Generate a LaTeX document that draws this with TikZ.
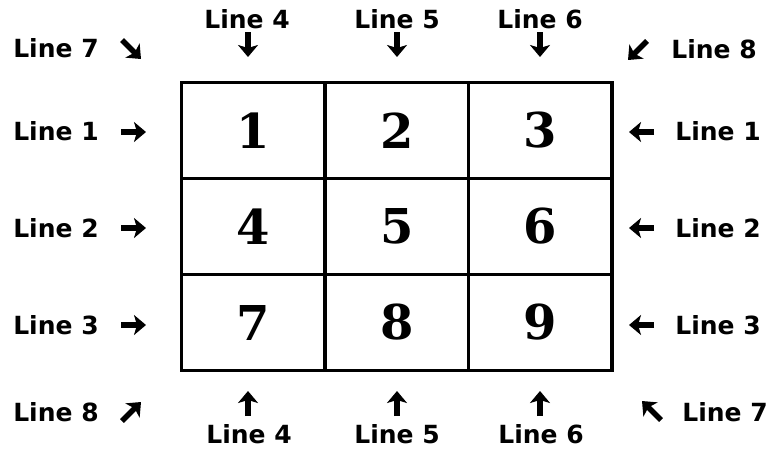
\documentclass[tikz,border=0pt]{standalone}
\usepackage{fontspec}
\setmainfont{DejaVu Sans}
\newfontfamily\digitfont{DejaVu Serif}
\usetikzlibrary{arrows.meta}
\tikzset{
  cell/.style={draw, line width=3.5pt, minimum width=143.5pt, minimum height=96pt,
    inner sep=0pt, outer sep=0pt, font=\digitfont\bfseries\fontsize{48}{48}\selectfont},
  lbl/.style={inner sep=0pt, font=\bfseries\fontsize{25}{25}\selectfont},
  garrow/.style={line width=5.5pt, -{Stealth[length=12pt 0, width=20pt 0, inset=3pt 0]}}
}
\begin{document}
\begin{tikzpicture}[x=1pt,y=-1pt]
\useasboundingbox (0,0) rectangle (770,448);
% grid
\node[cell] (c1) at (253.25,130.5) {1};
\node[cell] (c2) at (396.75,130.5) {2};
\node[cell] (c3) at (540.25,130.5) {3};
\node[cell] (c4) at (253.25,226.5) {4};
\node[cell] (c5) at (396.75,226.5) {5};
\node[cell] (c6) at (540.25,226.5) {6};
\node[cell] (c7) at (253.25,322.5) {7};
\node[cell] (c8) at (396.75,322.5) {8};
\node[cell] (c9) at (540.25,322.5) {9};
% top labels
\node[lbl] (t7) at (56,48) {Line 7};
\node[lbl] (t4) at (247,19) {Line 4};
\node[lbl] (t5) at (397,19) {Line 5};
\node[lbl] (t6) at (540,19) {Line 6};
\node[lbl] (t8) at (714,49) {Line 8};
% side labels
\node[lbl] (l1) at (56,131) {Line 1};
\node[lbl] (l2) at (56,228) {Line 2};
\node[lbl] (l3) at (56,325) {Line 3};
\node[lbl] (r1) at (718,131) {Line 1};
\node[lbl] (r2) at (718,228) {Line 2};
\node[lbl] (r3) at (718,325) {Line 3};
% bottom labels
\node[lbl] (b8) at (56,412) {Line 8};
\node[lbl] (b4) at (249,434) {Line 4};
\node[lbl] (b5) at (397,434) {Line 5};
\node[lbl] (b6) at (541,434) {Line 6};
\node[lbl] (b7) at (725,412) {Line 7};
% arrow coordinates
\coordinate (a7s) at (122,40);  \coordinate (a7e) at (141,59);
\coordinate (a4s) at (248,32);  \coordinate (a4e) at (248,57);
\coordinate (a5s) at (397,32);  \coordinate (a5e) at (397,57);
\coordinate (a6s) at (540,32);  \coordinate (a6e) at (540,57);
\coordinate (a8s) at (647,41);  \coordinate (a8e) at (628,60);
\coordinate (l1s) at (121,132); \coordinate (l1e) at (146,132);
\coordinate (l2s) at (121,228); \coordinate (l2e) at (146,228);
\coordinate (l3s) at (121,325); \coordinate (l3e) at (146,325);
\coordinate (r1s) at (654,132); \coordinate (r1e) at (629,132);
\coordinate (r2s) at (654,228); \coordinate (r2e) at (629,228);
\coordinate (r3s) at (654,325); \coordinate (r3e) at (629,325);
\coordinate (b8s) at (122,421); \coordinate (b8e) at (141,402);
\coordinate (b4s) at (248,416); \coordinate (b4e) at (248,391);
\coordinate (b5s) at (397,416); \coordinate (b5e) at (397,391);
\coordinate (b6s) at (540,416); \coordinate (b6e) at (540,391);
\coordinate (b7s) at (661,420); \coordinate (b7e) at (642,401);
\foreach \a in {a7,a4,a5,a6,a8,l1,l2,l3,r1,r2,r3,b8,b4,b5,b6,b7}
  \draw[garrow] (\a s) -- (\a e);
\end{tikzpicture}
\end{document}
